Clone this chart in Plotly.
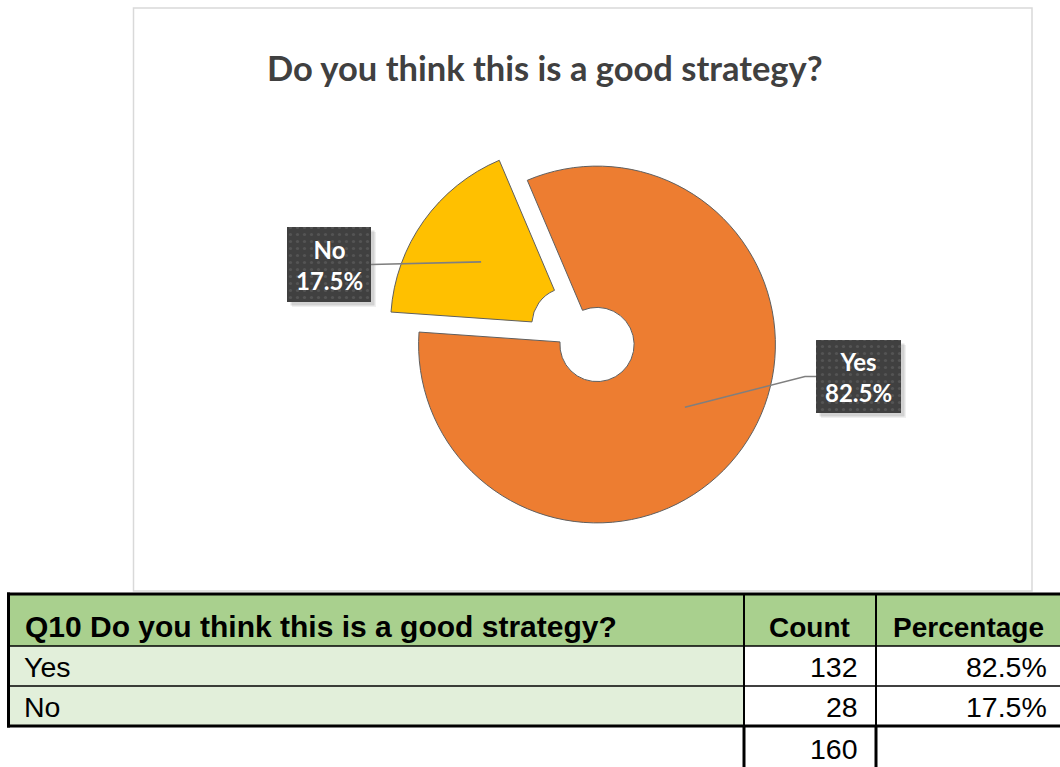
import math
import plotly.graph_objects as go

# ---- data -------------------------------------------------------------
chart_title = "Do you think this is a good strategy?"
question = "Q10 Do you think this is a good strategy?"
answers = ["Yes", "No"]
counts = [132, 28]
column_headers = ["Count", "Percentage"]

total = sum(counts)
shares = [c / total * 100 for c in counts]
share_text = [f"{s:.1f}%" for s in shares]

# ---- page / styling constants ------------------------------------------
W, H = 1060, 767
SLICE_COLORS = ["#ED7D31", "#FFC000"]
DARK = "#404040"
HEADER_GREEN = "#A9D08E"
BODY_GREEN = "#E2EFDA"

# doughnut geometry in page pixels
CX, CY, R = 597, 344.5, 178.4
HOLE = 0.208
PULL = [0, 0.193]
ROTATION = -23

# label boxes: (left, top, width, height, elbow length)
LABEL_BOX = {"Yes": (816, 340, 85, 73, 11), "No": (287, 227, 84, 75, 0)}

# table grid (page pixels)
COLS = [7, 744, 876, 1062]
ROWS = [594, 646, 686, 726, 769]

fig = go.Figure()

# plotly shrinks the radius by (1 + max pull), so size the domain accordingly
half = R * (1 + max(PULL))
fig.add_trace(go.Pie(
    labels=answers, values=counts, hole=HOLE, pull=PULL, sort=False,
    direction="clockwise", rotation=ROTATION,
    marker=dict(colors=SLICE_COLORS, line=dict(color="#5f5f5f", width=1)),
    textinfo="none", hoverinfo="label+value+percent", showlegend=False,
    domain=dict(x=[(CX - half) / W, (CX + half) / W],
                y=[(H - CY - half) / H, (H - CY + half) / H]),
))

shapes = []
annotations = []

# chart area frame
shapes.append(dict(type="rect", xref="x", yref="y", x0=133.5, x1=1032, y0=8, y1=591,
                   line=dict(color="#D9D9D9", width=1.5), fillcolor="rgba(0,0,0,0)",
                   layer="below"))

annotations.append(dict(x=545, y=67, xref="x", yref="y", text=f"<b>{chart_title}</b>",
                        showarrow=False, xanchor="center", yanchor="middle",
                        font=dict(family="Lato", size=34.5, color=DARK)))

# data labels with leader lines
angle = ROTATION
for name, cnt, txt, pull in zip(answers, counts, share_text, PULL):
    span = 360 * cnt / total
    mid = math.radians(angle + span / 2)
    angle += span
    cx = CX + pull * R * math.sin(mid)
    cy = CY - pull * R * math.cos(mid)
    ax = cx + 0.605 * R * math.sin(mid)
    ay = cy - 0.605 * R * math.cos(mid)

    left, top, bw, bh, elbow = LABEL_BOX[name]
    mid_y = top + bh / 2
    if ax > left:
        edge = left + bw
        path = f"M{ax},{ay} L{edge + elbow},{mid_y} L{edge},{mid_y}"
    else:
        edge = left
        path = f"M{ax},{ay} L{edge - elbow},{mid_y} L{edge},{mid_y}"
    shapes.append(dict(type="path", xref="x", yref="y", path=path,
                       line=dict(color="#7F7F7F", width=1.6), layer="above"))

    # soft drop shadow
    for off, alpha in ((5, 0.06), (3.5, 0.12)):
        shapes.append(dict(type="rect", xref="x", yref="y",
                           x0=left + off, x1=left + bw + off, y0=top + off, y1=top + bh + off,
                           fillcolor=f"rgba(0,0,0,{alpha})", line=dict(width=0),
                           layer="below"))
    # dotted dark box
    fig.add_trace(go.Bar(
        x=[left + bw / 2], y=[bh], base=[top], width=[bw],
        marker=dict(color=DARK, line=dict(width=0),
                    pattern=dict(shape=".", fillmode="replace", bgcolor=DARK,
                                 fgcolor="#545454", size=7, solidity=0.16)),
        hoverinfo="skip", showlegend=False,
    ))
    annotations.append(dict(x=left + bw / 2, y=mid_y, xref="x", yref="y",
                            text=f"<b>{name}</b><br><b>{txt}</b>", showarrow=False,
                            xanchor="center", yanchor="middle",
                            font=dict(family="Lato", size=24, color="white")))

# ---- table ---------------------------------------------------------------
shapes.append(dict(type="rect", xref="x", yref="y", x0=COLS[0], x1=COLS[3],
                   y0=ROWS[0], y1=ROWS[1], fillcolor=HEADER_GREEN, line=dict(width=0),
                   layer="below"))
shapes.append(dict(type="rect", xref="x", yref="y", x0=COLS[0], x1=COLS[1],
                   y0=ROWS[1], y1=ROWS[3], fillcolor=BODY_GREEN, line=dict(width=0),
                   layer="below"))


def hline(y, x0, x1, w):
    shapes.append(dict(type="line", xref="x", yref="y", x0=x0, x1=x1, y0=y, y1=y,
                       line=dict(color="black", width=w), layer="above"))


def vline(x, y0, y1, w):
    shapes.append(dict(type="line", xref="x", yref="y", x0=x, x1=x, y0=y0, y1=y1,
                       line=dict(color="black", width=w), layer="above"))


hline(ROWS[0], COLS[0], COLS[3], 3)
hline(ROWS[1], COLS[0], COLS[3], 1.6)
hline(ROWS[2], COLS[0], COLS[3], 1.6)
hline(ROWS[3], COLS[0], COLS[3], 3)
vline(COLS[0] + 1.5, ROWS[0] - 1.5, ROWS[3] + 1.5, 3)
for cx_ in COLS[1:3]:
    vline(cx_, ROWS[0], ROWS[3], 2)
    vline(cx_, ROWS[3], ROWS[4], 3)

TFONT = "Liberation Sans, Arial, sans-serif"
annotations.append(dict(x=COLS[0] + 16, y=ROWS[1] - 1, xref="x", yref="y",
                        text=f"<b>{question}</b>", showarrow=False,
                        xanchor="left", yanchor="bottom",
                        font=dict(family=TFONT, size=30, color="black")))
for i, hdr in enumerate(column_headers):
    annotations.append(dict(x=(COLS[i + 1] + COLS[i + 2]) / 2 - 1, y=ROWS[1] - 1,
                            xref="x", yref="y", text=f"<b>{hdr}</b>", showarrow=False,
                            xanchor="center", yanchor="bottom",
                            font=dict(family=TFONT, size=28, color="black")))

for r, (name, cnt, txt) in enumerate(zip(answers, counts, share_text)):
    ymid = (ROWS[r + 1] + ROWS[r + 2]) / 2 + 1
    annotations.append(dict(x=COLS[0] + 15, y=ymid, xref="x", yref="y", text=name,
                            showarrow=False, xanchor="left", yanchor="middle",
                            font=dict(family=TFONT, size=28.5, color="black")))
    annotations.append(dict(x=COLS[2] - 16, y=ymid, xref="x", yref="y", text=str(cnt),
                            showarrow=False, xanchor="right", yanchor="middle",
                            font=dict(family=TFONT, size=28.5, color="black")))
    annotations.append(dict(x=COLS[3] - 13, y=ymid, xref="x", yref="y", text=txt,
                            showarrow=False, xanchor="right", yanchor="middle",
                            font=dict(family=TFONT, size=28.5, color="black")))
annotations.append(dict(x=COLS[2] - 16, y=(ROWS[3] + ROWS[4]) / 2 + 1, xref="x", yref="y",
                        text=str(total), showarrow=False, xanchor="right",
                        yanchor="middle", font=dict(family=TFONT, size=28.5, color="black")))

fig.update_layout(
    width=W, height=H, margin=dict(l=0, r=0, t=0, b=0),
    paper_bgcolor="white", plot_bgcolor="white",
    xaxis=dict(range=[0, W], visible=False, fixedrange=True),
    yaxis=dict(range=[H, 0], visible=False, fixedrange=True),
    barmode="overlay", shapes=shapes, annotations=annotations,
    showlegend=False,
)

fig.write_html("out.html")
